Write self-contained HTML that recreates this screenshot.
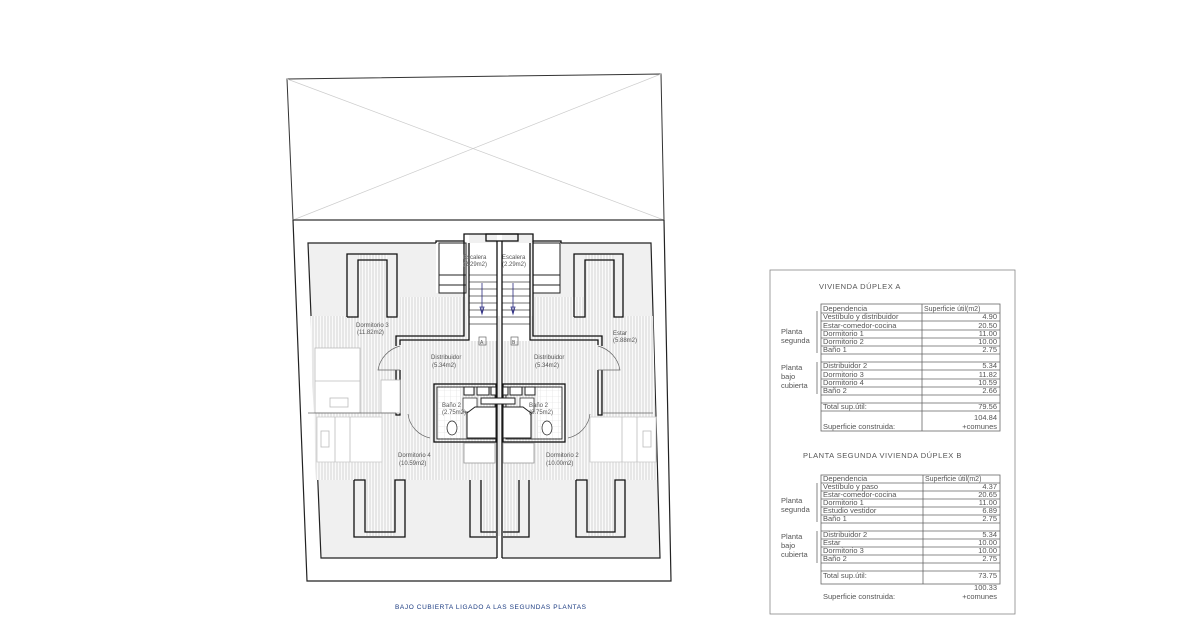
<!DOCTYPE html>
<html><head><meta charset="utf-8"><style>
html,body{margin:0;padding:0;background:#fff;}
svg{display:block;font-family:"Liberation Sans",sans-serif;}
</style></head><body>
<svg width="1183" height="626" viewBox="0 0 1183 626" xmlns="http://www.w3.org/2000/svg">
<defs>
<pattern id="h" width="3" height="10" patternUnits="userSpaceOnUse"><rect width="3" height="10" fill="#fafafa"/><line x1="1" y1="0" x2="1" y2="10" stroke="#c4c4c4" stroke-width="0.7"/></pattern>
<pattern id="t" width="6" height="6" patternUnits="userSpaceOnUse"><rect width="6" height="6" fill="#fff"/><path d="M0 0H6M0 0V6" stroke="#ddd" stroke-width="0.6"/></pattern>
</defs>
<!-- roof box -->
<polygon points="287,79 661,74 664,220 293,220" fill="#fff" stroke="#333" stroke-width="1"/>
<line x1="287" y1="79" x2="664" y2="220" stroke="#ccc" stroke-width="0.7"/>
<line x1="661" y1="74" x2="293" y2="220" stroke="#ccc" stroke-width="0.7"/>
<line x1="293" y1="220" x2="664" y2="220" stroke="#555" stroke-width="1.5"/>
<!-- outer plan -->
<polyline points="293,220 307,581 671,581 664,220" fill="none" stroke="#222" stroke-width="1.2"/>
<!-- inner grey roof area -->
<polygon points="308,243 436,243 436,293 466,293 466,243 469,243 469,234 533,234 533,243 561,243 561,293 533,293 533,243 651,243 660,558 502,558 502,234 497,234 497,558 321,558" fill="#f0f0f0" stroke="none"/>
<polyline points="436,243 308,243 321,558 497,558" fill="none" stroke="#222" stroke-width="1.2"/>
<polyline points="561,243 651,243 660,558 502,558" fill="none" stroke="#222" stroke-width="1.2"/>
<!-- hatched habitable band -->
<polygon points="310,316 653,316 657,480 316,480" fill="url(#h)"/>
<rect x="400" y="297" width="66" height="45" fill="url(#h)"/>
<rect x="533" y="297" width="66" height="45" fill="url(#h)"/>
<rect x="358" y="254" width="29" height="63" fill="url(#h)"/>
<rect x="585" y="254" width="29" height="63" fill="url(#h)"/>
<rect x="365" y="480" width="30" height="56" fill="url(#h)"/>
<rect x="481" y="480" width="38" height="56" fill="url(#h)"/>
<rect x="587" y="480" width="28" height="56" fill="url(#h)"/>
<!-- stair block -->
<rect x="439" y="243" width="27" height="50" fill="#fff" stroke="#222" stroke-width="1"/>
<line x1="439" y1="275" x2="466" y2="275" stroke="#222"/><line x1="439" y1="285" x2="466" y2="285" stroke="#222"/>
<rect x="533" y="243" width="27" height="50" fill="#fff" stroke="#222" stroke-width="1"/>
<line x1="533" y1="275" x2="560" y2="275" stroke="#222"/><line x1="533" y1="285" x2="560" y2="285" stroke="#222"/>
<rect x="469" y="243" width="28" height="98" fill="#fff"/>
<rect x="502" y="243" width="28" height="98" fill="#fff"/>
<g stroke="#444" stroke-width="0.7">
<line x1="469" y1="275" x2="497" y2="275"/><line x1="469" y1="282" x2="497" y2="282"/><line x1="469" y1="289" x2="497" y2="289"/><line x1="469" y1="296" x2="497" y2="296"/><line x1="469" y1="303" x2="497" y2="303"/><line x1="469" y1="310" x2="497" y2="310"/><line x1="469" y1="317" x2="497" y2="317"/><line x1="469" y1="324" x2="497" y2="324"/>
<line x1="502" y1="275" x2="530" y2="275"/><line x1="502" y1="282" x2="530" y2="282"/><line x1="502" y1="289" x2="530" y2="289"/><line x1="502" y1="296" x2="530" y2="296"/><line x1="502" y1="303" x2="530" y2="303"/><line x1="502" y1="310" x2="530" y2="310"/><line x1="502" y1="317" x2="530" y2="317"/><line x1="502" y1="324" x2="530" y2="324"/>
</g>
<g stroke="#2a2a80" stroke-width="0.8" fill="#2a2a80">
<line x1="482" y1="283" x2="482" y2="313"/><path d="M480 307 L482 314 L484 307Z" fill="none"/>
<line x1="513" y1="283" x2="513" y2="313"/><path d="M511 307 L513 314 L515 307Z" fill="none"/>
</g>
<g fill="none" stroke="#111" stroke-width="1.3">
<polyline points="436,243 436,241 464,241 464,234 533,234 533,241 561,241 561,243"/>
<rect x="486" y="234" width="32" height="7"/>
<line x1="497" y1="241" x2="497" y2="558"/><line x1="502" y1="241" x2="502" y2="558"/>
<polyline points="469,243 469,340 400,340 400,345"/>
<polyline points="464,241 464,336 396,336 396,346"/>
<polyline points="530,243 530,340 598,340 598,345"/>
<polyline points="533,241 533,336 602,336 602,346"/>
<polyline points="396,370 396,415 400,415 400,370"/>
<polyline points="602,370 602,415 598,415 598,370"/>
<rect x="434" y="384" width="62" height="58"/>
<rect x="437" y="387" width="58" height="52" stroke-width="0.8"/>
<rect x="503" y="384" width="62" height="58"/>
<rect x="506" y="387" width="56" height="52" stroke-width="0.8"/>
<!-- dormers -->
<polyline points="347,317 347,254 397,254 397,317 387,317 387,260 358,260 358,317 347,317"/>
<polyline points="574,317 574,254 623,254 623,317 614,317 614,260 585,260 585,317 574,317"/>
<polyline points="354,480 354,537 405,537 405,480 395,480 395,532 365,532 365,480 354,480"/>
<polyline points="470,480 470,537 496,537"/><polyline points="481,480 481,532 496,532"/>
<polyline points="529,480 529,537 503,537"/><polyline points="519,480 519,532 503,532"/>
<polyline points="576,480 576,537 625,537 625,480 615,480 615,532 587,532 587,480 576,480"/>
</g>
<!-- bathroom tiles -->
<rect x="438" y="388" width="22" height="50" fill="url(#t)"/>
<rect x="538" y="388" width="23" height="50" fill="url(#t)"/>
<g fill="#fff" stroke="#222" stroke-width="1">
<rect x="464" y="387" width="10" height="8"/><rect x="477" y="387" width="12" height="8"/><rect x="491" y="387" width="5" height="8"/>
<rect x="503" y="387" width="5" height="8"/><rect x="510" y="387" width="12" height="8"/><rect x="525" y="387" width="10" height="8"/>
<rect x="481" y="398" width="34" height="6"/>
<rect x="463" y="398" width="14" height="14" stroke-width="0.7"/>
<rect x="520" y="398" width="14" height="14" stroke-width="0.7"/>
<path d="M467 413 L475 407 L496 407 L496 438 L467 438Z" stroke-width="1"/>
<path d="M531 413 L523 407 L503 407 L503 438 L531 438Z" stroke-width="1"/>
<ellipse cx="452" cy="428" rx="5" ry="7" stroke-width="0.7"/>
<ellipse cx="547" cy="428" rx="5" ry="7" stroke-width="0.7"/>
</g>
<!-- furniture -->
<g fill="#fff" stroke="#bbb" stroke-width="0.8">
<rect x="315" y="348" width="45" height="65"/><line x1="315" y1="381" x2="360" y2="381"/><rect x="330" y="398" width="18" height="9"/>
<rect x="381" y="380" width="19" height="33"/>
<rect x="317" y="417" width="65" height="45" stroke="#ccc"/><line x1="335" y1="417" x2="335" y2="462"/><line x1="350" y1="417" x2="350" y2="462"/><rect x="321" y="431" width="8" height="16"/>
<rect x="590" y="417" width="66" height="45" stroke="#ccc"/><line x1="622" y1="417" x2="622" y2="462"/><line x1="637" y1="417" x2="637" y2="462"/><rect x="643" y="431" width="8" height="16"/>
<rect x="464" y="443" width="31" height="20" stroke="#999"/>
<rect x="503" y="443" width="31" height="20" stroke="#999"/>
</g>
<g fill="none" stroke="#666" stroke-width="0.7">
<path d="M400 346 A30 30 0 0 0 378 370 L400 370"/>
<path d="M598 346 A30 30 0 0 1 620 370 L598 370"/>
<path d="M408 414 A28 28 0 0 0 430 438"/>
<path d="M590 414 A28 28 0 0 1 568 438"/>
<line x1="308" y1="413" x2="396" y2="413"/><line x1="602" y1="413" x2="653" y2="413"/>
<rect x="479" y="337" width="7" height="8"/><rect x="511" y="337" width="7" height="8"/>
</g>
<g font-size="6" fill="#555">
<text x="463" y="259">Escalera</text><text x="463" y="266">(2.29m2)</text>
<text x="502" y="259">Escalera</text><text x="502" y="266">(2.29m2)</text>
<text x="356" y="327">Dormitorio 3</text><text x="357" y="334">(11.82m2)</text>
<text x="613" y="335">Estar</text><text x="613" y="342">(5.88m2)</text>
<text x="431" y="359">Distribuidor</text><text x="432" y="367">(5.34m2)</text>
<text x="534" y="359">Distribuidor</text><text x="535" y="367">(5.34m2)</text>
<text x="442" y="407">Baño 2</text><text x="442" y="414">(2.75m2)</text>
<text x="529" y="407">Baño 2</text><text x="529" y="414">(2.75m2)</text>
<text x="398" y="457">Dormitorio 4</text><text x="399" y="465">(10.59m2)</text>
<text x="546" y="457">Dormitorio 2</text><text x="546" y="465">(10.00m2)</text>
<text x="480" y="344" font-size="5">A</text><text x="512" y="344" font-size="5">B</text>
</g>
<text x="395" y="609" font-size="6.5" fill="#1a3a80" letter-spacing="0.6">BAJO CUBIERTA LIGADO A LAS SEGUNDAS PLANTAS</text>
<!-- tables frame -->
<rect x="770" y="270" width="245" height="344" fill="none" stroke="#888" stroke-width="0.8"/>
<g font-size="7.5" fill="#555" stroke="none">
<text x="819" y="289" letter-spacing="0.5">VIVIENDA DÚPLEX A</text>
<text x="803" y="458" letter-spacing="0.5">PLANTA SEGUNDA VIVIENDA DÚPLEX B</text>
</g>
<!-- table A -->
<g stroke="#666" stroke-width="0.8" fill="none">
<rect x="821" y="304" width="179" height="127"/><line x1="922" y1="304" x2="922" y2="431"/>
<path d="M821 313H1000M821 321H1000M821 330H1000M821 338H1000M821 346H1000M821 354H1000M821 362H1000M821 370H1000M821 379H1000M821 387H1000M821 395H1000M821 403H1000M821 411H1000"/>
<line x1="817" y1="311" x2="817" y2="353"/><line x1="817" y1="362" x2="817" y2="394"/>
<rect x="821" y="475" width="179" height="109"/><line x1="923" y1="475" x2="923" y2="584"/>
<path d="M821 483H1000M821 491H1000M821 499H1000M821 507H1000M821 515H1000M821 523H1000M821 531H1000M821 539H1000M821 547H1000M821 555H1000M821 563H1000M821 571H1000"/>
<line x1="817" y1="483" x2="817" y2="522"/><line x1="817" y1="531" x2="817" y2="563"/>
</g>
<g font-size="7.5" fill="#555">
<text x="823" y="311">Dependencia</text><text x="924" y="311" font-size="7">Superficie útil(m2)</text>
<text x="823" y="319">Vestíbulo y distribuidor</text><text x="997" y="319" text-anchor="end">4.90</text>
<text x="823" y="328">Estar-comedor-cocina</text><text x="997" y="328" text-anchor="end">20.50</text>
<text x="823" y="336">Dormitorio 1</text><text x="997" y="336" text-anchor="end">11.00</text>
<text x="823" y="344">Dormitorio 2</text><text x="997" y="344" text-anchor="end">10.00</text>
<text x="823" y="352">Baño 1</text><text x="997" y="352" text-anchor="end">2.75</text>
<text x="823" y="368">Distribuidor 2</text><text x="997" y="368" text-anchor="end">5.34</text>
<text x="823" y="377">Dormitorio 3</text><text x="997" y="377" text-anchor="end">11.82</text>
<text x="823" y="385">Dormitorio 4</text><text x="997" y="385" text-anchor="end">10.59</text>
<text x="823" y="393">Baño 2</text><text x="997" y="393" text-anchor="end">2.66</text>
<text x="823" y="409">Total sup.útil:</text><text x="997" y="409" text-anchor="end">79.56</text>
<text x="997" y="420" text-anchor="end">104.84</text>
<text x="823" y="429">Superficie construida:</text><text x="997" y="429" text-anchor="end">+comunes</text>
<text x="781" y="334">Planta</text><text x="781" y="343">segunda</text>
<text x="781" y="370">Planta</text><text x="781" y="379">bajo</text><text x="781" y="388">cubierta</text>

<text x="823" y="481">Dependencia</text><text x="925" y="481" font-size="7">Superficie útil(m2)</text>
<text x="823" y="489">Vestíbulo y paso</text><text x="997" y="489" text-anchor="end">4.37</text>
<text x="823" y="497">Estar-comedor-cocina</text><text x="997" y="497" text-anchor="end">20.65</text>
<text x="823" y="505">Dormitorio 1</text><text x="997" y="505" text-anchor="end">11.00</text>
<text x="823" y="513">Estudio vestidor</text><text x="997" y="513" text-anchor="end">6.89</text>
<text x="823" y="521">Baño 1</text><text x="997" y="521" text-anchor="end">2.75</text>
<text x="823" y="537">Distribuidor 2</text><text x="997" y="537" text-anchor="end">5.34</text>
<text x="823" y="545">Estar</text><text x="997" y="545" text-anchor="end">10.00</text>
<text x="823" y="553">Dormitorio 3</text><text x="997" y="553" text-anchor="end">10.00</text>
<text x="823" y="561">Baño 2</text><text x="997" y="561" text-anchor="end">2.75</text>
<text x="823" y="578">Total sup.útil:</text><text x="997" y="578" text-anchor="end">73.75</text>
<text x="997" y="590" text-anchor="end">100.33</text>
<text x="823" y="599">Superficie construida:</text><text x="997" y="599" text-anchor="end">+comunes</text>
<text x="781" y="503">Planta</text><text x="781" y="512">segunda</text>
<text x="781" y="539">Planta</text><text x="781" y="548">bajo</text><text x="781" y="557">cubierta</text>
</g>
</svg>
</body></html>
